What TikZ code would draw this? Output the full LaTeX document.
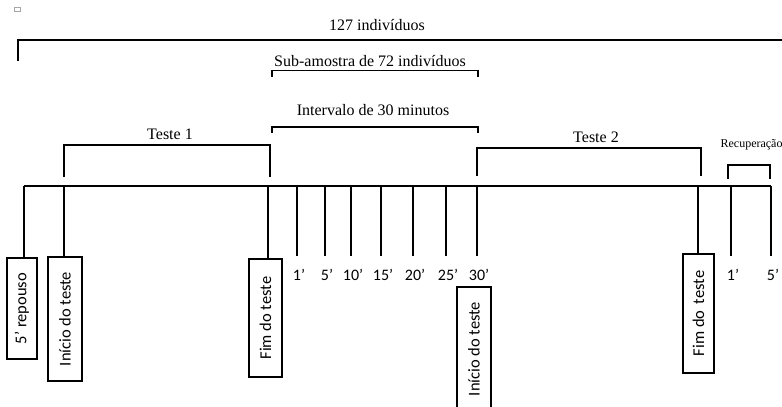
\documentclass[tikz,border=0pt]{standalone}
\usepackage{fontspec}
\setmainfont{Liberation Serif}
\newfontfamily\calfont{Carlito}
\begin{document}
\begin{tikzpicture}[x=1pt,y=-1pt,line width=1.2pt,
  lbl/.style={font=\fontsize{16}{16}\selectfont, anchor=base, inner sep=0pt},
  small/.style={font=\fontsize{12}{12}\selectfont, anchor=base west, inner sep=0pt},
  ticklbl/.style={font=\calfont\fontsize{16}{16}\selectfont, anchor=base, inner sep=0pt},
  vbox/.style={draw, line width=1.2pt, rotate=90, font=\calfont\fontsize{16.5}{16.5}\selectfont, inner sep=0pt}]
\useasboundingbox (0,0) rectangle (782,407);
\clip (0,0) rectangle (782,407);
% small artefact
\draw[gray!70, line width=0.5pt] (14,7) rectangle (20,11);
% top labels and brackets
\node[lbl] (n127) at (377,30) {127 indivíduos};
\draw (18,61) -- (18,40) -- (782,40);
\node[lbl] (nsub) at (370,66) {Sub-amostra de 72 indivíduos};
\draw (272,77) -- (272,70.5) -- (478,70.5) -- (478,77);
\node[lbl] (nint) at (373,115) {Intervalo de 30 minutos};
\draw (272,133) -- (272,127) -- (478,127) -- (478,133);
\node[lbl] (nt1) at (170,139) {Teste 1};
\draw (64,177) -- (64,145) -- (270,145) -- (270,177);
\node[lbl] (nt2) at (596,142) {Teste 2};
\draw (477,176) -- (477,148) -- (701,148) -- (701,176);
\node[small] (nrec) at (720,147) {Recuperação};
\draw (728,179) -- (728,165) -- (770,165) -- (770,179);
% timeline
\coordinate (tl0) at (24,186);
\coordinate (tl1) at (771,186);
\draw (tl0) -- (tl1);
% boxes
\node[vbox, minimum width=101pt, minimum height=30pt] (b1) at (22,308.5) {5’ repouso};
\node[vbox, minimum width=124pt, minimum height=34pt] (b2) at (65,319) {Início do teste};
\node[vbox, minimum width=118pt, minimum height=33pt] (b3) at (265.5,318) {Fim do teste};
\node[vbox, minimum width=124pt, minimum height=34pt] (b4) at (474,349) {Início do teste};
\node[vbox, minimum width=119pt, minimum height=31pt] (b5) at (698.5,313.5) {Fim do\, teste};
% connectors to boxes
\coordinate (c1) at (24,186);
\coordinate (c2) at (64,186);
\coordinate (c3) at (268,186);
\coordinate (c5) at (698,186);
\draw (c1) -- (c1 |- b1.east);
\draw (c2) -- (c2 |- b2.east);
\draw (c3) -- (c3 |- b3.east);
\draw (c5) -- (c5 |- b5.east);
% minute ticks
\foreach \x/\t/\name in {297/1’/m1, 325/5’/m5, 351/10’/m10, 381/15’/m15, 413/20’/m20, 446/25’/m25, 477/30’/m30, 731/1’/r1, 771/5’/r5}{
  \coordinate (\name) at (\x,186);
  \draw (\name) -- (\x,255.5);
  \node[ticklbl] (l\name) at (\x+2,280) {\t};
}
\end{tikzpicture}
\end{document}
